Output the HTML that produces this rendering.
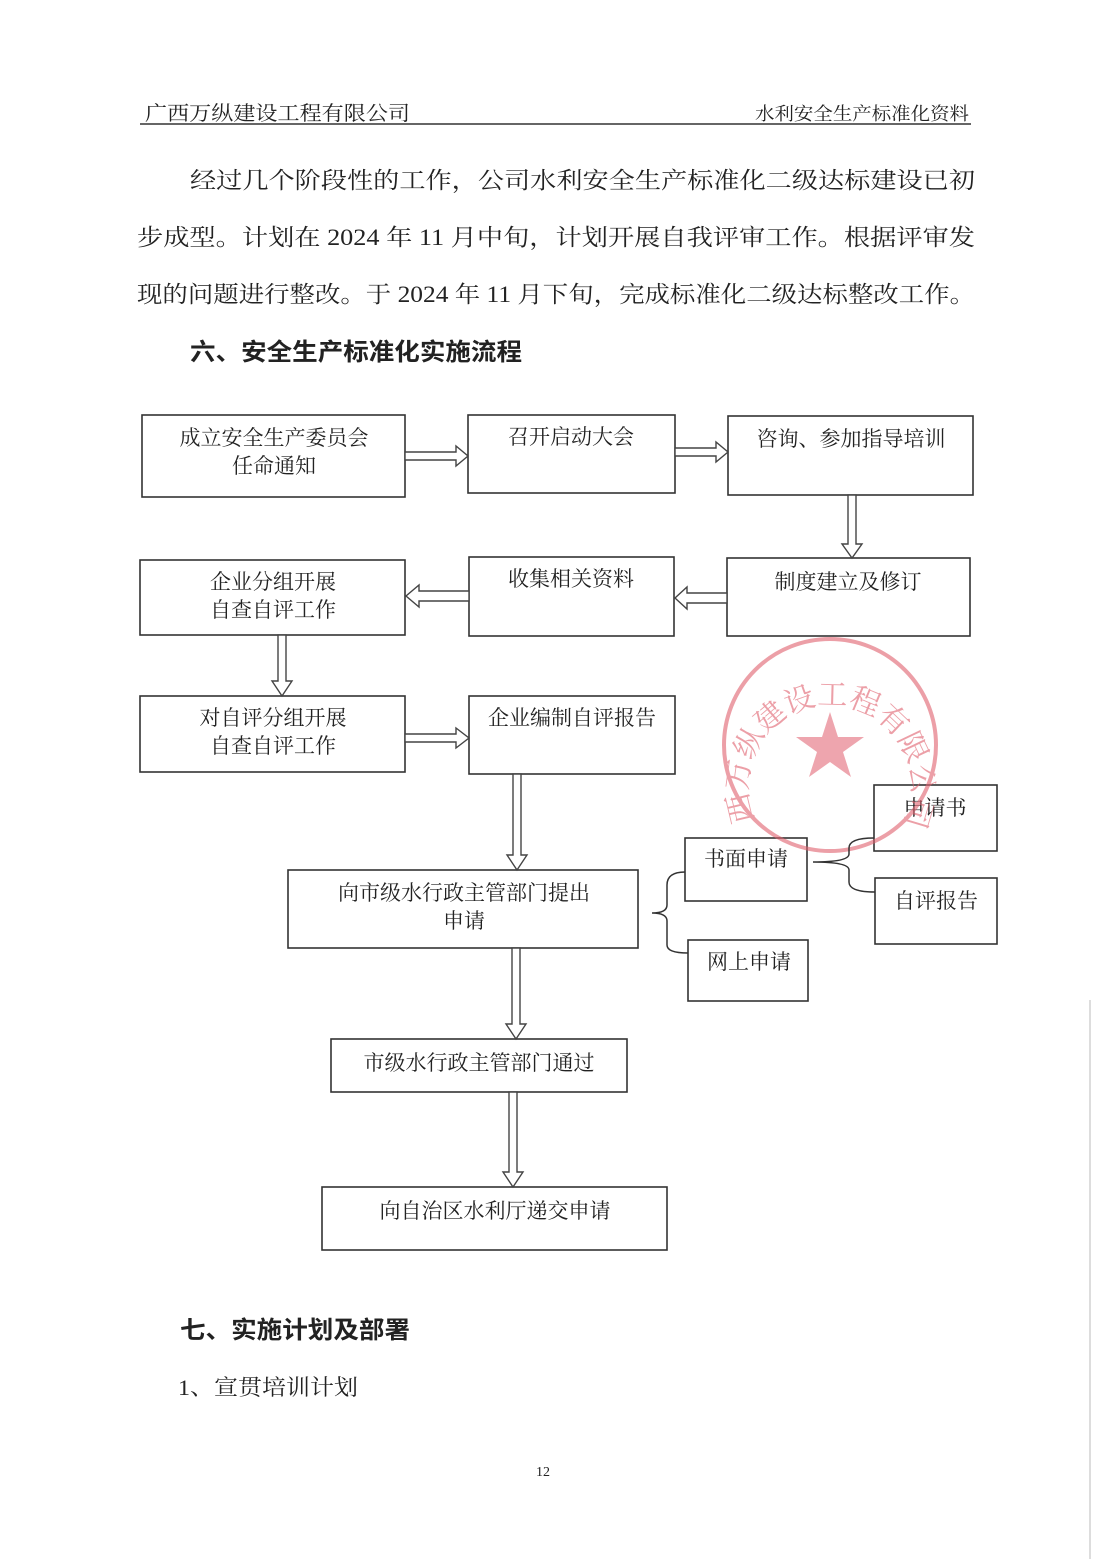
<!DOCTYPE html>
<html><head><meta charset="utf-8"><style>
html,body{margin:0;padding:0;background:#fff}
svg{display:block}
text{font-family:"Liberation Serif","Noto Serif CJK SC","Noto Sans CJK SC",serif;fill:#222}
.b{font-family:"Liberation Sans","Noto Sans CJK SC",sans-serif;font-weight:bold}
.box{fill:#fff;stroke:#333;stroke-width:1.6}
.ar{fill:#fff;stroke:#444;stroke-width:1.4}
.bt{font-size:21px}
</style></head><body>
<svg width="1102" height="1559" viewBox="0 0 1102 1559" xmlns="http://www.w3.org/2000/svg">
<defs><path id="arc" d="M755,820 A82,82 0 1,1 905,820"/></defs>
<rect width="1102" height="1559" fill="#fff"/>
<line x1="1090" y1="1000" x2="1090" y2="1559" stroke="#ddd" stroke-width="2"/>
<text x="145" y="120" font-size="20" textLength="265" lengthAdjust="spacingAndGlyphs">广西万纵建设工程有限公司</text>
<text x="755" y="120" font-size="18" textLength="214" lengthAdjust="spacingAndGlyphs">水利安全生产标准化资料</text>
<line x1="140" y1="124" x2="971" y2="124" stroke="#333" stroke-width="1.5"/>
<text x="190" y="188" font-size="23" textLength="785" lengthAdjust="spacingAndGlyphs">经过几个阶段性的工作，公司水利安全生产标准化二级达标建设已初</text>
<text x="137" y="245" font-size="23" textLength="838" lengthAdjust="spacingAndGlyphs">步成型。计划在 2024 年 11 月中旬，计划开展自我评审工作。根据评审发</text>
<text x="137" y="302" font-size="23" textLength="838" lengthAdjust="spacingAndGlyphs">现的问题进行整改。于 2024 年 11 月下旬，完成标准化二级达标整改工作。</text>
<text class="b" x="190" y="360" font-size="24" textLength="332" lengthAdjust="spacingAndGlyphs">六、安全生产标准化实施流程</text>

<rect class="box" x="142" y="415" width="263" height="82"/>
<rect class="box" x="468" y="415" width="207" height="78"/>
<rect class="box" x="728" y="416" width="245" height="79"/>
<rect class="box" x="140" y="560" width="265" height="75"/>
<rect class="box" x="469" y="557" width="205" height="79"/>
<rect class="box" x="727" y="558" width="243" height="78"/>
<rect class="box" x="140" y="696" width="265" height="76"/>
<rect class="box" x="469" y="696" width="206" height="78"/>
<rect class="box" x="288" y="870" width="350" height="78"/>
<rect class="box" x="685" y="838" width="122" height="63"/>
<rect class="box" x="688" y="940" width="120" height="61"/>
<rect class="box" x="874" y="785" width="123" height="66"/>
<rect class="box" x="875" y="878" width="122" height="66"/>
<rect class="box" x="331" y="1039" width="296" height="53"/>
<rect class="box" x="322" y="1187" width="345" height="63"/>

<g class="bt" text-anchor="middle">
<text x="274" y="445">成立安全生产委员会</text>
<text x="274" y="473">任命通知</text>
<text x="571" y="444">召开启动大会</text>
<text x="851" y="446">咨询、参加指导培训</text>
<text x="273" y="589">企业分组开展</text>
<text x="273" y="617">自查自评工作</text>
<text x="571" y="586">收集相关资料</text>
<text x="848" y="589">制度建立及修订</text>
<text x="273" y="725">对自评分组开展</text>
<text x="273" y="753">自查自评工作</text>
<text x="572" y="725">企业编制自评报告</text>
<text x="464" y="900">向市级水行政主管部门提出</text>
<text x="464" y="928">申请</text>
<text x="746" y="866">书面申请</text>
<text x="749" y="969">网上申请</text>
<text x="935" y="815">申请书</text>
<text x="936" y="908">自评报告</text>
<text x="479" y="1070">市级水行政主管部门通过</text>
<text x="495" y="1218">向自治区水利厅递交申请</text>
</g>

<g opacity="0.6">
<circle cx="830" cy="745" r="106" fill="none" stroke="#e0606e" stroke-width="4"/>
<polygon points="830,712 838,737 864,737 843,752 851,777 830,762 809,777 817,752 796,737 822,737" fill="#e46b7a"/>
<text font-size="30" style="fill:#e0606e"><textPath href="#arc">西万纵建设工程有限公司</textPath></text>
</g>

<g class="ar">
<polygon points="405,452 456,452 456,446 468,456 456,466 456,460 405,460"/>
<polygon points="675,448 716,448 716,442 728,452 716,462 716,456 675,456"/>
<polygon points="848,495 848,544 842,544 852,558 862,544 856,544 856,495"/>
<polygon points="727,593 687,593 687,587 675,598 687,609 687,603 727,603"/>
<polygon points="469,591 419,591 419,585 406,596 419,607 419,601 469,601"/>
<polygon points="278,635 278,681 272,681 282,696 292,681 286,681 286,635"/>
<polygon points="405,734 456,734 456,728 469,738 456,748 456,742 405,742"/>
<polygon points="513,774 513,855 507,855 517,870 527,855 521,855 521,774"/>
<polygon points="512,948 512,1024 506,1024 516,1039 526,1024 520,1024 520,948"/>
<polygon points="509,1092 509,1172 503,1172 513,1187 523,1172 517,1172 517,1092"/>
</g>
<path d="M685,872 Q667,872 667,885 L667,905 Q667,913 652,913 Q667,913 667,921 L667,945 Q667,953 688,953" fill="none" stroke="#333" stroke-width="1.5"/>
<path d="M874,838 Q849,838 849,848 L849,854 Q849,862 813,862 Q849,862 849,870 L849,882 Q849,892 875,892" fill="none" stroke="#333" stroke-width="1.5"/>

<text class="b" x="180" y="1338" font-size="24" textLength="230" lengthAdjust="spacingAndGlyphs">七、实施计划及部署</text>
<text x="178" y="1395" font-size="22" textLength="180" lengthAdjust="spacingAndGlyphs">1、宣贯培训计划</text>
<text x="543" y="1476" font-size="14" text-anchor="middle">12</text>
</svg>
</body></html>
